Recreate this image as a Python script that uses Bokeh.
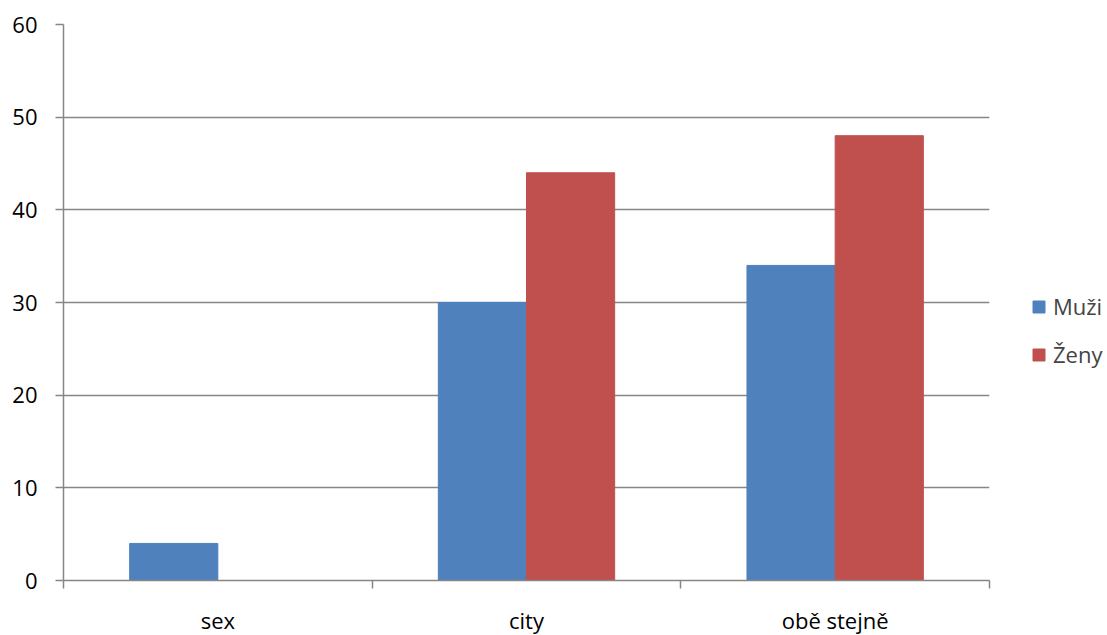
from bokeh.plotting import figure
from bokeh.models import (Range1d, FixedTicker, ColumnDataSource, Legend, LegendItem)
from bokeh.transform import dodge
from bokeh.embed import file_html
from bokeh.resources import INLINE

categories = ["sex", "city", "obě stejně"]
muzi = [4, 30, 34]
zeny = [0, 44, 48]
series_names = ["Muži", "Ženy"]
y_ticks = [0, 10, 20, 30, 40, 50, 60]

BLUE = "#4F81BD"
RED = "#C0504D"
GRAY = "#868686"
FONT = "Open Sans"
FS = "22px"

n = len(categories)
centers = [i + 0.5 for i in range(n)]
source = ColumnDataSource(dict(cat=categories, xc=centers, muzi=muzi, zeny=zeny))

p = figure(frame_width=926, frame_height=556, output_backend="svg", toolbar_location=None,
           x_range=Range1d(0, n), y_range=Range1d(0, 60),
           min_border_left=63, min_border_top=24, min_border_right=118, min_border_bottom=55)
p.outline_line_color = None
p.background_fill_color = "white"
p.border_fill_color = "white"

bw = 0.2857
r1 = p.vbar(x=dodge("xc", -bw / 2), top="muzi", width=bw, source=source,
            fill_color=BLUE, line_color=BLUE)
r2 = p.vbar(x=dodge("xc", bw / 2), top="zeny", width=bw, source=source,
            fill_color=RED, line_color=RED)

# y axis
ya = p.yaxis[0]
ya.ticker = FixedTicker(ticks=y_ticks)
ya.axis_line_color = GRAY
ya.axis_line_width = 1.5
ya.major_tick_line_color = GRAY
ya.major_tick_line_width = 1.5
ya.major_tick_out = 8
ya.major_tick_in = 0
ya.minor_tick_line_color = None
ya.major_label_text_font = FONT
ya.major_label_text_font_size = FS
ya.major_label_text_color = "black"
ya.major_label_standoff = 18

p.ygrid.ticker = FixedTicker(ticks=y_ticks)
p.ygrid.grid_line_color = GRAY
p.ygrid.grid_line_width = 1.5
p.xgrid.grid_line_color = None

# x axis: labels at category centers, boundary ticks as minor ticks
xa = p.xaxis[0]
xa.ticker = FixedTicker(ticks=centers, minor_ticks=list(range(n + 1)))
xa.major_label_overrides = {c: lab for c, lab in zip(centers, categories)}
xa.axis_line_color = GRAY
xa.axis_line_width = 1.5
xa.major_tick_line_color = None
xa.minor_tick_line_color = GRAY
xa.minor_tick_line_width = 1.5
xa.minor_tick_out = 8
xa.minor_tick_in = 0
xa.major_label_text_font = FONT
xa.major_label_text_font_size = FS
xa.major_label_text_color = "black"
xa.major_label_standoff = 16

legend = Legend(items=[LegendItem(label=series_names[0], renderers=[r1]),
                       LegendItem(label=series_names[1], renderers=[r2])],
                location=(42, 211), orientation="vertical",
                glyph_width=15, glyph_height=15, label_standoff=7,
                spacing=18, padding=0, margin=0,
                label_text_font=FONT, label_text_font_size=FS,
                background_fill_alpha=0, border_line_color=None)
p.add_layout(legend, "right")

open("out.html", "w").write(file_html(p, INLINE))
